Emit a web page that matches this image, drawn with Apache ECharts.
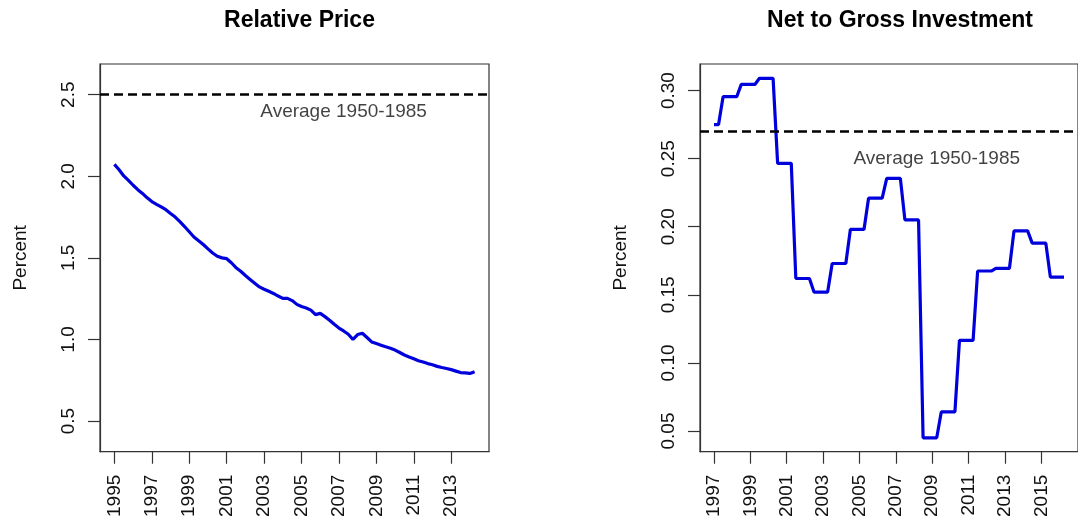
<!DOCTYPE html>
<html>
<head>
<meta charset="utf-8">
<script src="https://cdn.jsdelivr.net/npm/echarts@6/dist/echarts.min.js"></script>
<style>html,body{margin:0;padding:0;background:#fff}#c{width:1078px;height:520px}</style>
</head>
<body>
<div id="c"></div>
<script>
// ---- Relative Price (quarterly) ----
const priceYears = [
  1995.00,1995.25,1995.50,1995.75,1996.00,1996.25,1996.50,1996.75,1997.00,1997.25,1997.50,1997.75,
  1998.00,1998.25,1998.50,1998.75,1999.00,1999.25,1999.50,1999.75,2000.00,2000.25,2000.50,2000.75,
  2001.00,2001.25,2001.50,2001.75,2002.00,2002.25,2002.50,2002.75,2003.00,2003.25,2003.50,2003.75,
  2004.00,2004.25,2004.50,2004.75,2005.00,2005.25,2005.50,2005.75,2006.00,2006.25,2006.50,2006.75,
  2007.00,2007.25,2007.50,2007.75,2008.00,2008.25,2008.50,2008.75,2009.00,2009.25,2009.50,2009.75,
  2010.00,2010.25,2010.50,2010.75,2011.00,2011.25,2011.50,2011.75,2012.00,2012.25,2012.50,2012.75,
  2013.00,2013.25,2013.50,2013.75,2014.00,2014.25
];
const priceValues = [
  2.073,2.040,2.002,1.975,1.945,1.918,1.895,1.868,1.845,1.828,1.812,1.795,
  1.772,1.750,1.722,1.692,1.660,1.628,1.605,1.582,1.555,1.530,1.510,1.500,
  1.495,1.470,1.440,1.418,1.392,1.368,1.345,1.322,1.308,1.295,1.282,1.266,
  1.252,1.252,1.238,1.215,1.202,1.193,1.180,1.152,1.160,1.140,1.118,1.093,
  1.070,1.052,1.032,1.000,1.030,1.038,1.012,0.985,0.975,0.965,0.955,0.946,
  0.935,0.920,0.905,0.893,0.882,0.870,0.862,0.852,0.845,0.835,0.828,0.822,
  0.815,0.806,0.797,0.795,0.792,0.802
];
const priceAverage = 2.5;
const priceXTicks = [1995,1997,1999,2001,2003,2005,2007,2009,2011,2013];
const priceYTicks = [0.5,1.0,1.5,2.0,2.5];

// ---- Net to Gross Investment (vertices of the step line) ----
const netYears = [
  1997.00,1997.25,1997.50,1998.25,1998.50,1999.25,1999.50,2000.25,2000.50,2001.25,
  2001.50,2002.25,2002.50,2003.25,2003.50,2004.25,2004.50,2005.25,2005.50,2006.25,
  2006.50,2007.25,2007.50,2008.25,2008.50,2009.25,2009.50,2010.25,2010.50,2011.25,
  2011.50,2012.25,2012.50,2013.25,2013.50,2014.25,2014.50,2015.25,2015.50,2016.25
];
const netValues = [
  0.275,0.275,0.2955,0.2955,0.3045,0.3045,0.309,0.309,0.2465,0.2465,
  0.162,0.162,0.152,0.152,0.173,0.173,0.198,0.198,0.221,0.221,
  0.2355,0.2355,0.205,0.205,0.045,0.045,0.064,0.064,0.1165,0.1165,
  0.1675,0.1675,0.1695,0.1695,0.197,0.197,0.188,0.188,0.163,0.163
];
const netAverage = 0.268;
const netXTicks = [1997,1999,2001,2003,2005,2007,2009,2011,2013,2015];
const netYTicks = [0.05,0.10,0.15,0.20,0.25,0.30];

const avgLabel = 'Average 1950-1985';
const priceLabelAt = [2007.25, 2.398];
const netLabelAt = [2009.25, 0.25];

const FONT = '"Liberation Sans", Arial, sans-serif';
const BLUE = '#0000dd';
const AXC = '#333333';
const TXT = '#111111';

function xAxisCfg(idx, min, max, ticks) {
  return {
    type: 'value', gridIndex: idx, min: min, max: max,
    splitLine: {show: false},
    axisLine: {show: true, onZero: false, lineStyle: {color: AXC, width: 1.2}},
    axisTick: {show: true, length: 12, customValues: ticks, lineStyle: {color: AXC, width: 1.2}},
    axisLabel: {customValues: ticks, rotate: 90, margin: 23, fontFamily: FONT, fontSize: 19, color: TXT,
      formatter: v => String(Math.round(v))}
  };
}
function yAxisCfg(idx, min, max, ticks, dec) {
  return {
    type: 'value', gridIndex: idx, min: min, max: max,
    name: 'Percent', nameLocation: 'middle', nameGap: 70,
    nameTextStyle: {fontFamily: FONT, fontSize: 19, color: TXT},
    splitLine: {show: false},
    axisLine: {show: true, onZero: false, lineStyle: {color: AXC, width: 1.2}},
    axisTick: {show: true, length: 12, customValues: ticks, lineStyle: {color: AXC, width: 1.2}},
    axisLabel: {customValues: ticks, rotate: 90, margin: 22, fontFamily: FONT, fontSize: 19, color: TXT,
      formatter: v => v.toFixed(dec)}
  };
}

const chart = echarts.init(document.getElementById('c'), null, {renderer: 'canvas'});
chart.setOption({
  animation: false,
  backgroundColor: '#fff',
  title: [
    {text: 'Relative Price', left: 294.5, top: 4, textAlign: 'center',
      textStyle: {fontFamily: FONT, fontSize: 23, fontWeight: 'bold', color: '#000'}},
    {text: 'Net to Gross Investment', left: 895, top: 4, textAlign: 'center',
      textStyle: {fontFamily: FONT, fontSize: 23, fontWeight: 'bold', color: '#000'}}
  ],
  grid: [
    {left: 100, top: 64, width: 389, height: 389, show: true, borderColor: AXC, borderWidth: 1.2, backgroundColor: 'transparent'},
    {left: 700, top: 64, width: 390, height: 389, show: true, borderColor: AXC, borderWidth: 1.2, backgroundColor: 'transparent'}
  ],
  xAxis: [
    xAxisCfg(0, 1994.23, 2015.02, priceXTicks),
    xAxisCfg(1, 1996.23, 2017.02, netXTicks)
  ],
  yAxis: [
    yAxisCfg(0, 0.312, 2.688, priceYTicks, 1),
    yAxisCfg(1, 0.0348, 0.3195, netYTicks, 2)
  ],
  series: [
    {
      type: 'line', xAxisIndex: 0, yAxisIndex: 0, showSymbol: false, symbol: 'none',
      data: priceYears.map((x, i) => [x, priceValues[i]]),
      lineStyle: {color: BLUE, width: 3.2},
      markLine: {silent: true, symbol: 'none', label: {show: false},
        lineStyle: {color: '#000', type: [9, 5], width: 2.5},
        data: [{yAxis: priceAverage}]}
    },
    {
      type: 'line', xAxisIndex: 1, yAxisIndex: 1, showSymbol: false, symbol: 'none',
      data: netYears.map((x, i) => [x, netValues[i]]),
      lineStyle: {color: BLUE, width: 3.2},
      markLine: {silent: true, symbol: 'none', label: {show: false},
        lineStyle: {color: '#000', type: [9, 5], width: 2.5},
        data: [{yAxis: netAverage}]}
    },
    {
      type: 'scatter', xAxisIndex: 0, yAxisIndex: 0, symbolSize: 0, silent: true,
      data: [priceLabelAt],
      label: {show: true, position: 'inside', formatter: avgLabel, fontFamily: FONT, fontSize: 19, color: TXT}
    },
    {
      type: 'scatter', xAxisIndex: 1, yAxisIndex: 1, symbolSize: 0, silent: true,
      data: [netLabelAt],
      label: {show: true, position: 'inside', formatter: avgLabel, fontFamily: FONT, fontSize: 19, color: TXT}
    }
  ]
});
</script>
</body>
</html>
